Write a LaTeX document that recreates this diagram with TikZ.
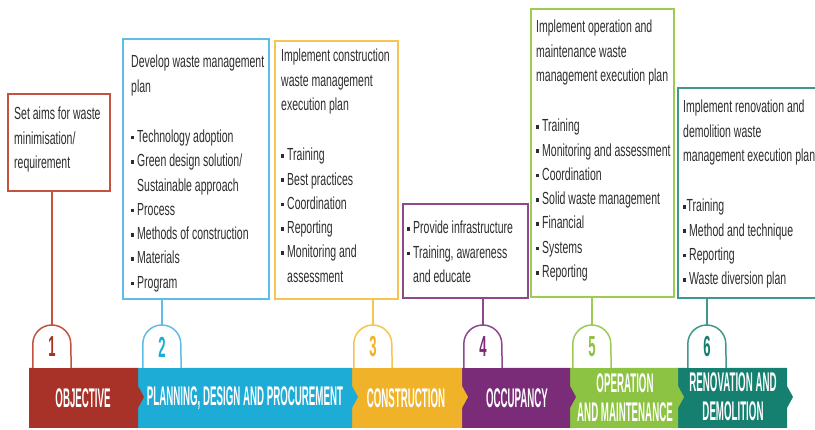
\documentclass[tikz,border=0pt]{standalone}
\usepackage{fontspec}
\setmainfont{Liberation Sans}
\newfontfamily\boxfont[FakeStretch=0.6]{Liberation Sans}
\newfontfamily\bandfont[FakeStretch=0.36]{Liberation Sans}
\newfontfamily\numfont[FakeStretch=0.45]{Liberation Sans}
\definecolor{bandR}{RGB}{168,50,40}
\definecolor{lineR}{RGB}{196,82,62}
\definecolor{bandB}{RGB}{28,172,214}
\definecolor{lineB}{RGB}{95,190,230}
\definecolor{bandY}{RGB}{240,178,40}
\definecolor{lineY}{RGB}{246,196,80}
\definecolor{bandP}{RGB}{122,44,120}
\definecolor{lineP}{RGB}{142,72,140}
\definecolor{bandG}{RGB}{141,195,66}
\definecolor{lineG}{RGB}{156,204,84}
\definecolor{bandT}{RGB}{22,128,112}
\definecolor{lineT}{RGB}{64,152,140}
\definecolor{txtgray}{RGB}{45,45,45}
\newcommand\bul{\makebox[6pt][l]{\rule[3pt]{2.6pt}{3.6pt}}}
\newcommand\bulx{\makebox[3.5pt][l]{\rule[3pt]{2.6pt}{3.6pt}}}
\newcommand\ind{\hspace*{6pt}}
\begin{document}
\begin{tikzpicture}[x=1pt,y=1pt,
  box/.style={draw, line width=1.8pt, inner sep=0pt, anchor=north west},
  boxtxt/.style={anchor=north west, inner sep=0pt, align=left, text=txtgray,
    font=\boxfont\fontsize{17.5}{24.3}\selectfont},
  bandlbl/.style={text=white, align=center, inner sep=0pt,
    font=\bandfont\bfseries\fontsize{27}{29}\selectfont},
  domenode/.style={circle, minimum size=38pt, inner sep=0pt},
  num/.style={inner sep=0pt, font=\numfont\bfseries\fontsize{29}{29}\selectfont},
  link/.style={line width=1.3pt},
  domeline/.style={line width=1.5pt, fill=white},
]
\useasboundingbox (0,0) rectangle (815,430);
\clip (0,0) rectangle (815,430);

% band segments (right to left so the tips overlap the next segment)
\fill[bandT] (678,2) -- (678,62) -- (787,62) -- (787,44) -- (793,33) -- (787,22) -- (787,2) -- cycle;
\fill[bandG] (570,2) -- (570,62) -- (678,62) -- (678,44) -- (684,33) -- (678,22) -- (678,2) -- cycle;
\fill[bandP] (462,2) -- (462,62) -- (570,62) -- (570,44) -- (576,33) -- (570,22) -- (570,2) -- cycle;
\fill[bandY] (352,2) -- (352,62) -- (462,62) -- (462,44) -- (468,33) -- (462,22) -- (462,2) -- cycle;
\fill[bandB] (138,2) -- (138,62) -- (352,62) -- (352,44) -- (358,33) -- (352,22) -- (352,2) -- cycle;
\fill[bandR] (29,2) -- (29,62) -- (138,62) -- (138,44) -- (144,33) -- (138,22) -- (138,2) -- cycle;

% band labels
\node[bandlbl] (l1) at (83,32) {OBJECTIVE};
\node[bandlbl] (l2) at (245,32) {PLANNING, DESIGN AND PROCUREMENT};
\node[bandlbl] (l3) at (406,32) {CONSTRUCTION};
\node[bandlbl] (l4) at (517,32) {OCCUPANCY};
\node[bandlbl] (l5) at (625,32.5) {OPERATION\\AND MAINTENANCE};
\node[bandlbl] (l6) at (733,33) {RENOVATION AND\\DEMOLITION};

% boxes
\node[box, draw=lineR, minimum width=102pt, minimum height=97pt] (b1) at (7,337) {};
\node[box, draw=lineB, minimum width=146pt, minimum height=260pt] (b2) at (122,392) {};
\node[box, draw=lineY, minimum width=123pt, minimum height=258pt] (b3) at (274,390) {};
\node[box, draw=lineP, minimum width=125pt, minimum height=94pt] (b4) at (402,227) {};
\node[box, draw=lineG, minimum width=143pt, minimum height=288pt] (b5) at (530,422) {};
\node[box, draw=lineT, minimum width=160pt, minimum height=210pt] (b6) at (677,343) {};

% box texts
\node[boxtxt] (t1) at (14,323) {Set aims for waste\\minimisation/\\requirement};
\node[boxtxt] (t2) at (131,375) {Develop waste management\\plan\\[26pt]
  \bul Technology adoption\\\bul Green design solution/\\\ind Sustainable approach\\
  \bul Process\\\bul Methods of construction\\\bul Materials\\\bul Program};
\node[boxtxt] (t3) at (281,381) {Implement construction\\waste management\\execution plan\\[26pt]
  \bul Training\\\bul Best practices\\\bul Coordination\\\bul Reporting\\
  \bul Monitoring and\\\ind assessment};
\node[boxtxt] (t4) at (407,209) {\bul Provide infrastructure\\\bul Training, awareness\\\ind and educate};
\node[boxtxt] (t5) at (536,410) {Implement operation and\\maintenance waste\\management execution plan\\[26pt]
  \bul Training\\\bul Monitoring and assessment\\\bul Coordination\\\bul Solid waste management\\
  \bul Financial\\\bul Systems\\\bul Reporting};
\node[boxtxt] (t6) at (683,330) {Implement renovation and\\demolition waste\\management execution plan\\[26pt]
  \bulx Training\\\bul Method and technique\\\bul Reporting\\\bul Waste diversion plan};

% domes
\node[domenode] (d1) at (52,86) {};
\node[domenode] (d2) at (162,86) {};
\node[domenode] (d3) at (373,86) {};
\node[domenode] (d4) at (483,86) {};
\node[domenode] (d5) at (592,86) {};
\node[domenode] (d6) at (707,86) {};
\foreach \i/\c in {1/lineR,2/lineB,3/lineY,4/lineP,5/lineG,6/lineT}{
  \draw[domeline, draw=\c] ([yshift=-24pt]d\i.west) -- (d\i.west)
    arc[start angle=180, end angle=0, radius=19pt] -- ([yshift=-24pt]d\i.east);
  \draw[link, draw=\c] (d\i.north |- b\i.south) -- (d\i.north);
}
\node[num, text=bandR] (n1) at ([yshift=-3pt]d1.center) {1};
\node[num, text=bandB] (n2) at ([yshift=-3pt]d2.center) {2};
\node[num, text=bandY] (n3) at ([yshift=-3pt]d3.center) {3};
\node[num, text=bandP] (n4) at ([yshift=-3pt]d4.center) {4};
\node[num, text=bandG] (n5) at ([yshift=-3pt]d5.center) {5};
\node[num, text=bandT] (n6) at ([yshift=-3pt]d6.center) {6};
\end{tikzpicture}
\end{document}
